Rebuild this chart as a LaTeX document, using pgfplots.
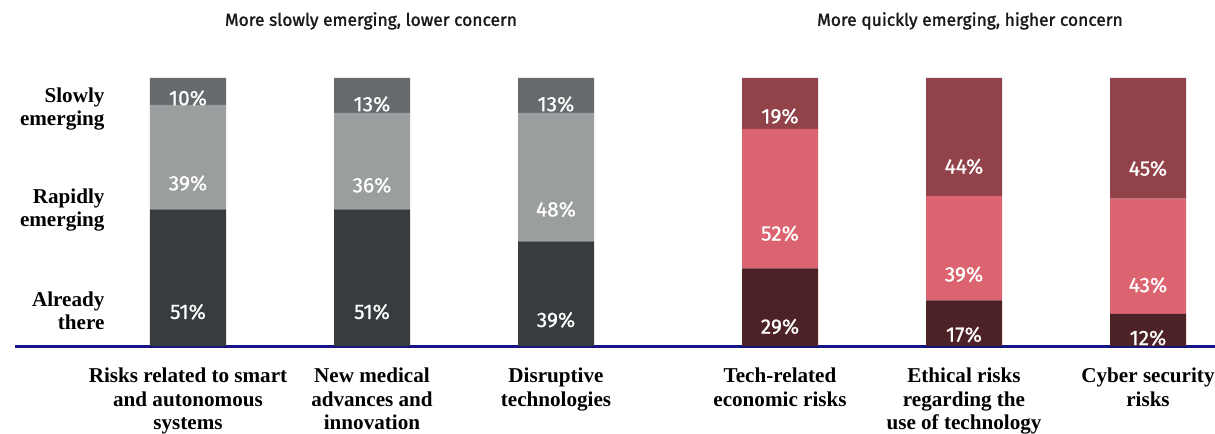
\documentclass[border=0pt]{standalone}
\usepackage{pgfplots}
\pgfplotsset{compat=1.18}
\usepackage{pgfplotstable}
\usepackage{fontspec}
\setmainfont{Liberation Serif}
\newfontfamily\sansf{Fira Sans}
\newfontfamily\titlef{Fira Sans}[FakeBold=1.5]
\newfontfamily\pctf{Fira Sans}[FakeBold=0.8]
\definecolor{gLo}{HTML}{373C3E}
\definecolor{gMid}{HTML}{9B9E9E}
\definecolor{gHi}{HTML}{666A6C}
\definecolor{rLo}{HTML}{4D2226}
\definecolor{rMid}{HTML}{DC6470}
\definecolor{rHi}{HTML}{924249}
\definecolor{navy}{RGB}{20,20,135}

\pgfplotstableread{
x lo mid hi
188 51 39 10
372 51 36 13
556 39 48 13
}\greydata
\pgfplotstableread{
x lo mid hi
780 29 52 19
964 17 39 44
1148 12 43 45
}\reddata

\pgfplotsset{
  base/.style={
    scale only axis, width=1200bp, height=268bp,
    xmin=15, xmax=1215, ymin=0, ymax=100,
    ybar stacked, bar width=76bp, clip=false,
    ytick=\empty, major tick length=0pt,
    /pgf/number format/assume math mode=true,
  },
  seg/.style={draw=none, fill=#1,
    visualization depends on={rawy \as \myv},
    nodes near coords={\pctf\fontsize{21}{23}\selectfont\pgfmathprintnumber[fixed,precision=0,assume math mode=true]{\myv}\%},
    nodes near coords style={text=white, anchor=center, yshift=-\myv*0.67bp},
  },
}

\begin{document}
\begin{tikzpicture}
\begin{axis}[base,
  axis x line=bottom, axis y line=none,
  x axis line style={-, draw=navy, line width=3bp},
  xtick={188,372,556,780,964,1148},
  xticklabels={{Risks related to smart\\and autonomous\\systems},
               {New medical\\advances and\\innovation},
               {Disruptive\\technologies},
               {Tech-related\\economic risks},
               {Ethical risks\\regarding the\\use of technology},
               {Cyber security\\risks}},
  xticklabel style={font=\bfseries\fontsize{21.2}{24}\selectfont, align=center, anchor=north, yshift=-18bp},
]
\coordinate (O) at (rel axis cs:0,0);
\addplot+[seg=gLo] table[x=x,y=lo]{\greydata};
\addplot+[seg=gMid] table[x=x,y=mid]{\greydata};
\addplot+[seg=gHi] table[x=x,y=hi]{\greydata};
\node[anchor=east, align=right, font=\bfseries\fontsize{21.2}{23}\selectfont] at (axis cs:108,88.4) {Slowly\\emerging};
\node[anchor=east, align=right, font=\bfseries\fontsize{21.2}{23}\selectfont] at (axis cs:108,50.7) {Rapidly\\emerging};
\node[anchor=east, align=right, font=\bfseries\fontsize{21.2}{23}\selectfont] at (axis cs:108,13.0) {Already\\there};
\node[font=\titlef\fontsize{17.5}{19}\selectfont, text=black!90] at (axis cs:371,121.3) {More slowly emerging, lower concern};
\node[font=\titlef\fontsize{17.5}{19}\selectfont, text=black!90] at (axis cs:970,121.3) {More quickly emerging, higher concern};
\end{axis}
\begin{axis}[base, axis lines=none, xtick=\empty]
\addplot+[seg=rLo] table[x=x,y=lo]{\reddata};
\addplot+[seg=rMid] table[x=x,y=mid]{\reddata};
\addplot+[seg=rHi] table[x=x,y=hi]{\reddata};
\end{axis}
\pgfresetboundingbox
\path (O) ++(-15bp,-88bp) rectangle ++(1215bp,434bp);
\end{tikzpicture}
\end{document}
